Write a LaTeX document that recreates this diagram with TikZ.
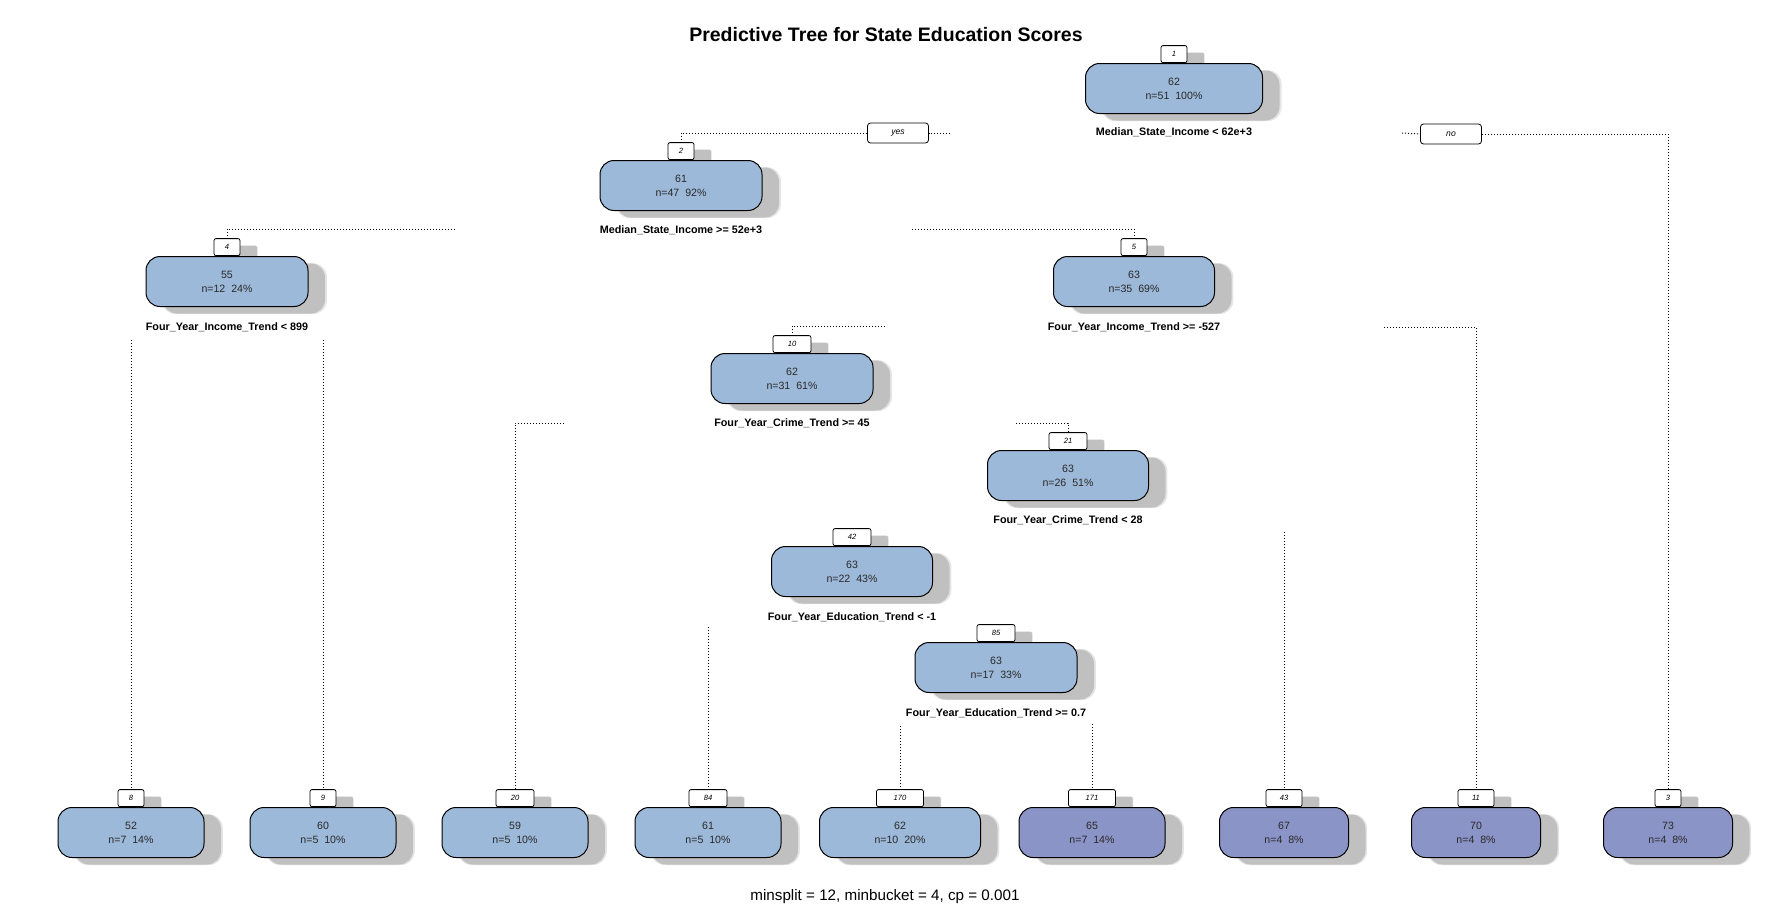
\documentclass[tikz,border=0pt]{standalone}
\usepackage{fontspec}
\setmainfont{Liberation Sans}
\usetikzlibrary{shadows}
\definecolor{nodeblue}{RGB}{157,185,217}
\definecolor{nodepurple}{RGB}{139,148,198}
\definecolor{txtgray}{RGB}{40,40,40}
\begin{document}
\begin{tikzpicture}[x=0.5pt,y=-0.5pt,
  shad/.style={general shadow={shadow xshift=8.5pt,shadow yshift=-3.5pt,fill=black,opacity=0.10,shadow scale=1.02},
               general shadow={shadow xshift=8.5pt,shadow yshift=-3.5pt,fill=black,opacity=0.16}},
  tnode/.style={draw=black,line width=0.5pt,rounded corners=7pt,minimum height=25pt,inner sep=0pt,
                align=center,font=\fontsize{5.3}{7}\selectfont,text=txtgray,anchor=north,shad},
  bnode/.style={tnode,fill=nodeblue},
  pnode/.style={tnode,fill=nodepurple},
  numbox/.style={draw=black,line width=0.4pt,fill=white,rounded corners=1pt,minimum height=8.5pt,
                 inner sep=0pt,anchor=south,font=\fontsize{3.8}{4}\selectfont\itshape,shad},
  splitlab/.style={font=\fontsize{5.4}{6}\selectfont\bfseries,inner sep=0pt},
  yn/.style={draw=black,line width=0.4pt,fill=white,rounded corners=1.5pt,minimum width=30.5pt,
             minimum height=10pt,inner sep=0pt,font=\fontsize{4.3}{5}\selectfont\itshape},
  branch/.style={line width=0.5pt,dash pattern=on 0.5pt off 1pt}
]
\useasboundingbox (0,0) rectangle (1784,907);
\fill[white] (0,0) rectangle (1784,907);

% title and footer
\node[font=\fontsize{9.75}{11}\selectfont\bfseries] (title) at (886,35) {Predictive Tree for State Education Scores};
\node[font=\fontsize{7.6}{9}\selectfont] (foot) at (885,897) {minsplit = 12, minbucket = 4, cp = 0.001};

% number boxes
\node[numbox,minimum width=13pt] (b1) at (1174,63) {1};
\node[numbox,minimum width=13pt] (b2) at (681,160) {2};
\node[numbox,minimum width=13pt] (b4) at (227,256) {4};
\node[numbox,minimum width=13pt] (b5) at (1134,256) {5};
\node[numbox,minimum width=19pt] (b10) at (792,353) {10};
\node[numbox,minimum width=19pt] (b21) at (1068,450) {21};
\node[numbox,minimum width=19pt] (b42) at (852,546) {42};
\node[numbox,minimum width=19pt] (b85) at (996,642) {85};
\node[numbox,minimum width=13pt] (b8) at (131,807) {8};
\node[numbox,minimum width=13pt] (b9) at (323,807) {9};
\node[numbox,minimum width=19pt] (b20) at (515,807) {20};
\node[numbox,minimum width=19pt] (b84) at (708,807) {84};
\node[numbox,minimum width=23.5pt] (b170) at (900,807) {170};
\node[numbox,minimum width=23.5pt] (b171) at (1092,807) {171};
\node[numbox,minimum width=18pt] (b43) at (1284,807) {43};
\node[numbox,minimum width=18pt] (b11) at (1476,807) {11};
\node[numbox,minimum width=13pt] (b3) at (1668,807) {3};

% internal nodes
\node[bnode,minimum width=88.5pt] (n1) at (1174,63) {62\\n=51\ \ 100\%};
\node[bnode,minimum width=81pt] (n2) at (681,160) {61\\n=47\ \ 92\%};
\node[bnode,minimum width=81pt] (n4) at (227,256) {55\\n=12\ \ 24\%};
\node[bnode,minimum width=80.5pt] (n5) at (1134,256) {63\\n=35\ \ 69\%};
\node[bnode,minimum width=81pt] (n10) at (792,353) {62\\n=31\ \ 61\%};
\node[bnode,minimum width=80.5pt] (n21) at (1068,450) {63\\n=26\ \ 51\%};
\node[bnode,minimum width=80.5pt] (n42) at (852,546) {63\\n=22\ \ 43\%};
\node[bnode,minimum width=81pt] (n85) at (996,642) {63\\n=17\ \ 33\%};

% leaves
\node[bnode,minimum width=73pt] (n8) at (131,807) {52\\n=7\ \ 14\%};
\node[bnode,minimum width=73pt] (n9) at (323,807) {60\\n=5\ \ 10\%};
\node[bnode,minimum width=73pt] (n20) at (515,807) {59\\n=5\ \ 10\%};
\node[bnode,minimum width=73pt] (n84) at (708,807) {61\\n=5\ \ 10\%};
\node[bnode,minimum width=80.5pt] (n170) at (900,807) {62\\n=10\ \ 20\%};
\node[pnode,minimum width=73pt] (n171) at (1092,807) {65\\n=7\ \ 14\%};
\node[pnode,minimum width=64.5pt] (n43) at (1284,807) {67\\n=4\ \ 8\%};
\node[pnode,minimum width=64.5pt] (n11) at (1476,807) {70\\n=4\ \ 8\%};
\node[pnode,minimum width=64.5pt] (n3) at (1668,807) {73\\n=4\ \ 8\%};

% split labels
\node[splitlab] (s1) at (1174,132) {Median\_State\_Income < 62e+3};
\node[splitlab] (s2) at (681,230) {Median\_State\_Income >= 52e+3};
\node[splitlab] (s4) at (227,327) {Four\_Year\_Income\_Trend < 899};
\node[splitlab] (s5) at (1134,327) {Four\_Year\_Income\_Trend >= -527};
\node[splitlab] (s10) at (792,423) {Four\_Year\_Crime\_Trend >= 45};
\node[splitlab] (s21) at (1068,520) {Four\_Year\_Crime\_Trend < 28};
\node[splitlab] (s42) at (852,617) {Four\_Year\_Education\_Trend < -1};
\node[splitlab] (s85) at (996,713) {Four\_Year\_Education\_Trend >= 0.7};

% yes / no
\node[yn] (yes) at (898,133) {yes};
\node[yn] (no) at (1451,134) {no};

% branches
\coordinate (c1l) at (950,133);
\coordinate (c1r) at (1402,133);
\coordinate (c2l) at (455,229);
\coordinate (c2r) at (912,229);
\coordinate (c4l) at (131,340);
\coordinate (c4r) at (323,340);
\coordinate (c5l) at (885,326);
\coordinate (c5r) at (1384,327);
\coordinate (c10l) at (564,423);
\coordinate (c10r) at (1016,423);
\coordinate (c21r) at (1284,532);
\coordinate (c42l) at (708,627);
\coordinate (c85l) at (900,726);
\coordinate (c85r) at (1092,724);

\draw[branch] (c1l) -- (yes.east);
\draw[branch] (yes.west) -| (b2.north);
\draw[branch] (c1r) -- (no.west);
\draw[branch] (no.east) -| (b3.north);
\draw[branch] (c2l) -| (b4.north);
\draw[branch] (c2r) -| (b5.north);
\draw[branch] (c4l) -- (b8.north);
\draw[branch] (c4r) -- (b9.north);
\draw[branch] (c5l) -| (b10.north);
\draw[branch] (c5r) -| (b11.north);
\draw[branch] (c10l) -| (b20.north);
\draw[branch] (c10r) -| (b21.north);
\draw[branch] (c21r) -- (b43.north);
\draw[branch] (c42l) -- (b84.north);
\draw[branch] (c85l) -- (b170.north);
\draw[branch] (c85r) -- (b171.north);
\end{tikzpicture}
\end{document}
